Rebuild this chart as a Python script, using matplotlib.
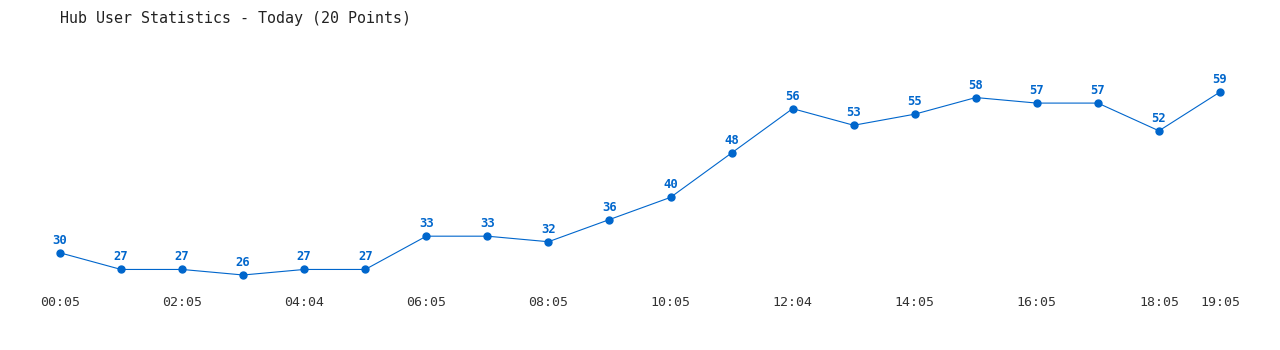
import matplotlib
matplotlib.use("Agg")
import matplotlib.pyplot as plt
import matplotlib.transforms as mtrans

title = "Hub User Statistics - Today (20 Points)"
values = [30, 27, 27, 26, 27, 27, 33, 33, 32, 36, 40, 48, 56, 53, 55, 58, 57, 57, 52, 59]
tick_idx = [0, 2, 4, 6, 8, 10, 12, 14, 16, 18, 19]
tick_labels = ["00:05", "02:05", "04:04", "06:05", "08:05", "10:05", "12:04", "14:05", "16:05", "18:05", "19:05"]

W, H = 1280, 350
fig = plt.figure(figsize=(W / 100, H / 100), dpi=100)
ax = fig.add_axes([60 / W, 1 - 275 / H, 1160 / W, 183 / H])
ax.set_xlim(0, len(values) - 1)
ax.set_ylim(26, 59)
ax.axis("off")

color = "#0066cc"
x = list(range(len(values)))
ax.plot(x, values, color=color, lw=0.8, marker="o", ms=5, clip_on=False)

for xi, v in zip(x, values):
    ax.annotate(str(v), (xi, v), xytext=(0, 9), textcoords="offset points",
                ha="center", va="center", fontsize=8.8, fontweight="bold",
                family="DejaVu Sans Mono", color=color)

trans = mtrans.blended_transform_factory(ax.transData, fig.transFigure)
for i, lab in zip(tick_idx, tick_labels):
    fig.text(i, 1 - 303 / H, lab, transform=trans, ha="center", va="center",
             fontsize=9.5, family="DejaVu Sans Mono", color="#333333")

fig.text(60 / W, 1 - 18 / H, title, ha="left", va="center", fontsize=10.8,
         family="DejaVu Sans Mono", color="#222222")

fig.savefig("out.png", dpi=100, facecolor="white")
